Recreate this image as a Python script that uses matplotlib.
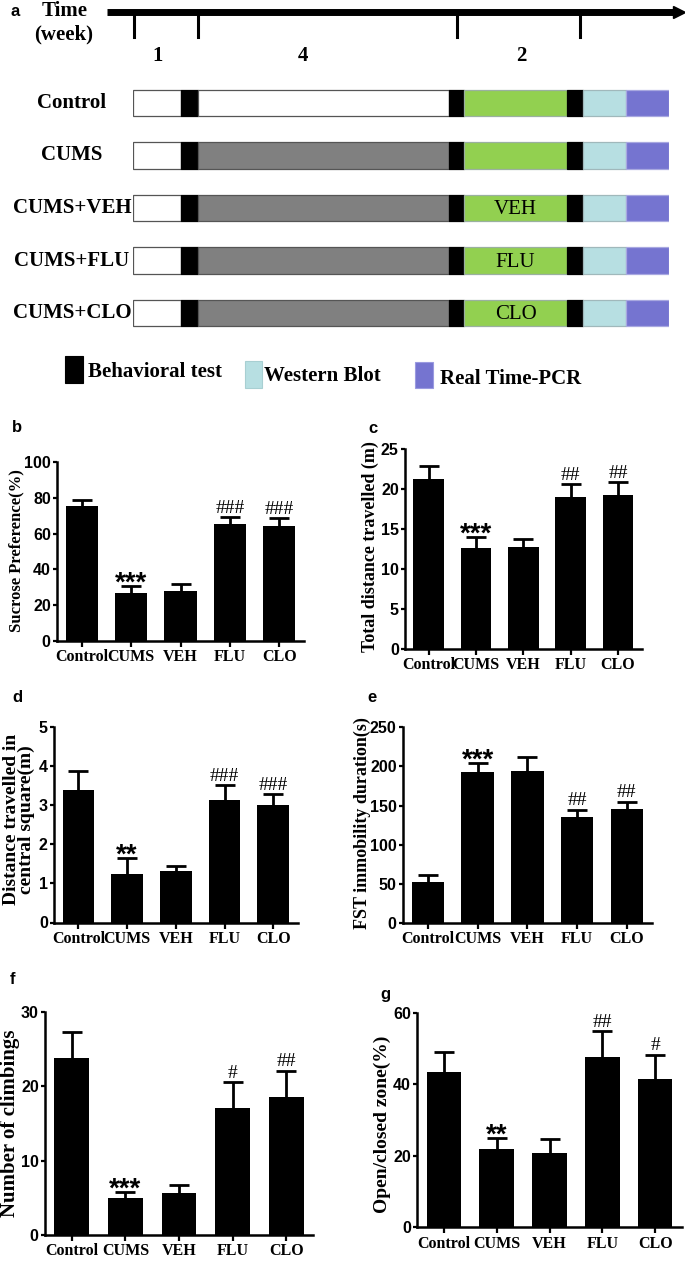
import numpy as np
import matplotlib
matplotlib.use("Agg")
import matplotlib.pyplot as plt
from matplotlib.patches import Rectangle

# ---------------- data ----------------
groups = ["Control", "CUMS", "VEH", "FLU", "CLO"]

sucrose_mean = [75.5, 27.0, 28.0, 65.4, 64.2]
sucrose_sem = [3.0, 4.0, 3.8, 4.0, 4.7]
sucrose_sig = ["", "***", "", "###", "###"]

total_dist_mean = [21.3, 12.6, 12.8, 19.0, 19.3]
total_dist_sem = [1.6, 1.4, 1.0, 1.6, 1.6]
total_dist_sig = ["", "***", "", "##", "##"]

central_mean = [3.38, 1.25, 1.31, 3.13, 3.00]
central_sem = [0.49, 0.40, 0.14, 0.38, 0.27]
central_sig = ["", "**", "", "###", "###"]

fst_mean = [52.6, 192.7, 194.0, 135.4, 145.2]
fst_sem = [8.2, 12.0, 17.8, 9.4, 9.8]
fst_sig = ["", "***", "", "##", "##"]

climb_mean = [23.75, 4.93, 5.7, 17.0, 18.5]
climb_sem = [3.55, 0.9, 1.0, 3.5, 3.6]
climb_sig = ["", "***", "", "#", "##"]

open_mean = [43.5, 22.0, 20.8, 47.5, 41.6]
open_sem = [5.4, 3.0, 3.9, 7.3, 6.7]
open_sig = ["", "**", "", "##", "#"]

# schematic (panel a)
design_rows = ["Control", "CUMS", "CUMS+VEH", "CUMS+FLU", "CUMS+CLO"]
treatment_text = ["", "", "VEH", "FLU", "CLO"]
phase_lengths = [48, 16.5, 251, 15.5, 103, 16, 43, 43]
week_labels = ["1", "4", "2"]
legend_labels = ["Behavioral test", "Western Blot", "Real Time-PCR"]

# ---------------- style ----------------
SERIF = "Liberation Serif"
SANS = "Liberation Sans"
W, H = 685, 1265
C_GREEN = "#92d050"
C_LBLUE = "#b7dfe2"
C_PURPLE = "#7574d0"
C_GRAY = "#808080"

fig = plt.figure(figsize=(W / 100, H / 100), dpi=100)


def fx(px):
    return px / W


def fy(py):
    return 1 - py / H


# ---------------- panel a ----------------
row_top_px, row_bot_px = 76.75, 339.25
axa = fig.add_axes([fx(133), fy(row_bot_px), fx(669) - fx(133), (row_bot_px - row_top_px) / H])
axa.set_xlim(0, sum(phase_lengths))
axa.set_ylim(4.5, -0.5)
axa.axis("off")

starts = np.concatenate([[0], np.cumsum(phase_lengths)[:-1]])
for r, name in enumerate(design_rows):
    stress_col = "white" if r == 0 else C_GRAY
    cols = ["white", "black", stress_col, "black", C_GREEN, "black", C_LBLUE, C_PURPLE]
    edges = ["#555555", "black", "#555555", "black", "#9ab0a0", "black", "#a0b8bb", "#a8a8e0"]
    axa.barh(r, phase_lengths, left=starts, height=0.51, color=cols,
             edgecolor=edges, linewidth=0.9)
    axa.text(-61, r, name, ha="center", va="center", fontsize=15,
             fontweight="bold", family=SERIF, clip_on=False)
    if treatment_text[r]:
        axa.text(starts[4] + phase_lengths[4] / 2, r + 0.03, treatment_text[r],
                 ha="center", va="center", fontsize=15, family=SERIF)

# timeline arrow
y_arrow = -1.733
axa.plot([-26, 541], [y_arrow, y_arrow], color="black", lw=5, solid_capstyle="butt",
         clip_on=False)
axa.plot([546], [y_arrow], marker=">", markersize=9, color="black", clip_on=False)
for tx in [0.5, 64.6, 324, 447]:
    axa.plot([tx, tx], [y_arrow, -1.257], color="black", lw=2.2, clip_on=False)
for lab, tx in zip(week_labels, [25, 170, 388]):
    axa.text(tx, -0.89, lab, ha="center", va="center", fontsize=15,
             fontweight="bold", family=SERIF, clip_on=False)
axa.text(-68, -1.75, "Time", ha="center", va="center", fontsize=15,
         fontweight="bold", family=SERIF, clip_on=False)
axa.text(-69, -1.31, "(week)", ha="center", va="center", fontsize=15,
         fontweight="bold", family=SERIF, clip_on=False)
fig.text(fx(15), fy(11), "a", ha="center", va="center", fontsize=12,
         fontweight="bold", family=SANS)

# legend
leg_items = [
    (legend_labels[0], "black", "black", -68, 4.819, 18, 0.514, -45, 5.124),
    (legend_labels[1], C_LBLUE, "#a8cfd2", 112, 4.908, 17, 0.515, 131, 5.194),
    (legend_labels[2], C_PURPLE, "#9a9ae0", 282, 4.928, 18, 0.50, 307, 5.257),
]
for lab, fc, ec, x0, y0, w, h, tx, ty in leg_items:
    axa.add_patch(Rectangle((x0, y0), w, h, facecolor=fc, edgecolor=ec, lw=0.8,
                            clip_on=False))
    axa.text(tx, ty, lab, ha="left", va="center", fontsize=15, fontweight="bold",
             family=SERIF, clip_on=False)


# ---------------- bar panels ----------------
def bar_panel(l, r, t, b, means, sems, ymax, yticks, ylabel, ylsize, ylx, yly,
              sig, letter, letter_xy, lsp=1.0):
    ax = fig.add_axes([fx(l), fy(b), (r - l) / W, (b - t) / H])
    x = np.arange(len(groups))
    means = np.asarray(means)
    sems = np.asarray(sems)
    ax.bar(x, means, width=0.65, color="black", zorder=2)
    eb = ax.errorbar(x, means, yerr=[np.zeros_like(sems), sems], fmt="none",
                     ecolor="black", elinewidth=2.0, capsize=7.5, capthick=2.0,
                     zorder=3)
    for cl in eb[1]:
        if np.allclose(cl.get_ydata(), means):
            cl.set_visible(False)
    ax.set_xlim(-0.5, 4.5)
    ax.set_ylim(0, ymax)
    ax.set_yticks(yticks)
    ax.set_xticks(x)
    ax.set_xticklabels(groups, fontsize=11.5, fontweight="bold", family=SERIF)
    for lab in ax.get_yticklabels():
        lab.set_fontsize(11.5)
        lab.set_fontweight("bold")
        lab.set_family(SANS)
    ax.tick_params(axis="y", length=3, width=1.6, pad=1.5, direction="out")
    ax.tick_params(axis="x", length=4, width=1.6, pad=2, direction="out")
    for s in ["top", "right"]:
        ax.spines[s].set_visible(False)
    for s in ["left", "bottom"]:
        ax.spines[s].set_linewidth(1.8)
    ax.set_ylabel(ylabel, fontsize=ylsize, fontweight="bold", family=SERIF,
                  va="center", linespacing=lsp)
    ax.yaxis.set_label_coords(ylx, yly)
    for i, s in enumerate(sig):
        if not s:
            continue
        top = means[i] + sems[i]
        if s.startswith("*"):
            ax.annotate(s, xy=(i, top), xytext=(0, -3.5), textcoords="offset points",
                        ha="center", va="baseline", fontsize=20, fontweight="bold",
                        family=SANS)
        else:
            ax.annotate(s, xy=(i, top), xytext=(0, 3.0), textcoords="offset points",
                        ha="center", va="baseline", fontsize=14, family=SERIF)
    fig.text(fx(letter_xy[0]), fy(letter_xy[1]), letter, ha="center", va="center",
             fontsize=12, fontweight="bold", family=SANS)
    return ax


bar_panel(57, 304, 462, 641, sucrose_mean, sucrose_sem, 100, [0, 20, 40, 60, 80, 100],
          "Sucrose Preference(%)", 12, -0.166, 0.503, sucrose_sig, "b", (17, 427))
bar_panel(405, 641.7, 449, 649, total_dist_mean, total_dist_sem, 25, [0, 5, 10, 15, 20, 25],
          "Total distance travelled (m)", 13, -0.148, 0.51, total_dist_sig, "c", (373, 428))
bar_panel(54, 297.7, 726.7, 922.5, central_mean, central_sem, 5, [0, 1, 2, 3, 4, 5],
          "Distance travelled in\ncentral square(m)", 14, -0.145, 0.526, central_sig,
          "d", (17, 697), lsp=0.85)
bar_panel(403, 651.7, 727.3, 923, fst_mean, fst_sem, 250, [0, 50, 100, 150, 200, 250],
          "FST immobility duration(s)", 13, -0.165, 0.51, fst_sig, "e", (372, 698))
bar_panel(45, 313, 1011.7, 1235, climb_mean, climb_sem, 30, [0, 10, 20, 30],
          "Number of climbings", 15, -0.131, 0.50, climb_sig, "f", (13, 980))
bar_panel(417.3, 681.7, 1012.7, 1227.3, open_mean, open_sem, 60, [0, 20, 40, 60],
          "Open/closed zone(%)", 14, -0.134, 0.48, open_sig, "g", (385, 995))

fig.savefig("out.png", dpi=100)
